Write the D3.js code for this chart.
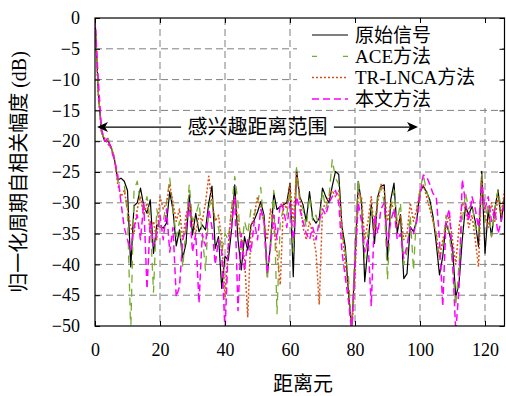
<!DOCTYPE html>
<html>
<script src='https://d3js.org/d3.v7.min.js'></script>
<head>
<style>
body {margin:0; background-color:white;}
text {font-family:'Liberation Serif','Noto Sans CJK SC',serif; fill:black;}
.grid line {stroke:#808080; stroke-dasharray:7,4; stroke-width:1;}
</style>
</head>
<body>
<svg width=506 height=396></svg>

<script>
var yTicks = [0,-5,-10,-15,-20,-25,-30,-35,-40,-45,-50]
var xTicks = [0,20,40,60,80,100,120]
var names = ['原始信号','ACE方法','TR-LNCA方法','本文方法']
var colors = ['black','#77AC30','#D95319','#FF00FF']
var dashes = ['none','8,6','2,2','7,4']
var widths = [1.2,1.3,1.5,1.5]

var orig = [0,-12,-18.5,-20,-20,-21,-23,-26.3,-26,-26.5,-28,-40.4,-30.5,-30,-27.6,-30.5,-31.7,-29.5,-38.2,-33.6,
  -33.9,-34.1,-33.3,-28.2,-31.2,-37,-34.4,-39,-36.6,-28.7,-35.2,-31.7,-34.7,-33.6,-34.4,-30,-27.3,-37.4,-35.5,-43.9,
  -38.7,-39.3,-34.4,-27.1,-36,-40.9,-35.5,-37.7,-33.6,-32.8,-31.5,-29.8,-32,-41.5,-37.1,-28.4,-31.1,-30.6,-30.3,-30,
  -26.8,-42,-24.6,-29,-30.3,-33,-28.2,-32.5,-33.3,-32.5,-27.6,-29,-30,-27.3,-24.9,-25.4,-33.9,-37.1,-44.7,-50.5,
  -39.3,-26.5,-30,-42.8,-37.1,-30.3,-36.6,-29,-27.3,-27.1,-39.3,-29.5,-26.8,-34.9,-31.9,-42.3,-41.5,-33.9,-34.7,-32.8,
  -28.2,-27.3,-28.2,-29.5,-32.2,-36.6,-41.7,-38.7,-33.3,-34.9,-37.1,-45.3,-43.1,-36,-30.6,-31.9,-30.6,-33,-37.1,-24.9,
  -38.2,-31.1,-35.5,-31.1,-27.9,-33,-29]
var ace = [0,-12,-18.5,-20,-19.5,-21,-22.5,-26.5,-27,-27,-32,-51,-28,-26.5,-30,-31,-29,-33,-44.5,-31,
  -34,-33,-30,-26,-31,-35.5,-33,-40.5,-34,-27,-33,-32,-30,-35,-41,-31,-29,-33,-34,-38,
  -35,-36,-31,-25.7,-30,-38,-33,-35,-31,-32,-30,-27.5,-34,-42.6,-36,-28,-48,-33,-31,-32,
  -28,-38,-24.3,-30,-31,-34,-29,-33,-32,-34,-28,-31,-29,-23,-26,-27,-35,-38,-42,-51,
  -37,-26.3,-31,-39,-35,-31,-34,-28.4,-27.5,-30,-42.5,-31,-28,-33,-30,-40,-38,-32,-41,-31,
  -28,-25.4,-28,-30,-33,-35,-39.3,-37,-32,-35,-40,-46.8,-40,-33,-28.4,-31,-30,-34,-35,-25.4,
  -33,-30,-35.5,-31,-28,-31,-30]
var trlnca = [0,-12.5,-18.5,-19.5,-20.5,-21,-23,-27,-29,-28,-31,-34,-35,-31,-29,-32,-30,-35,-33,-36,
  -29,-31,-30,-27,-30,-33,-31,-36,-32,-30,-33,-35,-32,-33,-30,-25.7,-30,-33,-32,-36,
  -45.3,-37,-31,-29,-33,-36,-39,-48.5,-34,-32,-29,-31,-33,-36,-31,-34,-38,-43.3,-30,-31,
  -27,-33,-25,-29,-34,-36,-33,-35,-38,-46.5,-31,-30,-29,-28,-29,-28,-34,-40,-44,-51,
  -42,-28.4,-29,-36,-33,-29,-35,-30,-27,-28,-33,-30,-31,-34,-32,-36,-35,-30,-33,-31,
  -28,-27,-29,-31,-33,-35,-39,-36,-34,-32,-36,-40,-34,-30,-31,-34,-32,-36,-40.4,-26,
  -32,-34,-30,-33,-29,-32,-28]
var proposed = [0,-10,-18,-20,-19.5,-21.5,-23,-25.5,-30,-34,-36,-37.7,-34,-32,-36,-30,-44,-33,-37,-35,
  -32,-36,-31,-38,-34,-45.3,-43.6,-36,-34,-30,-38,-35,-46.3,-35,-37,-31,-34,-40,-36,-38,
  -51,-37,-34,-29,-47.5,-35,-41,-36,-38,-33,-36,-31,-33,-41.5,-37,-32,-36,-30,-31,-34,
  -30,-36,-29,-31,-33,-35,-36,-34,-36,-33,-31,-32,-30,-29,-28,-30,-38,-42,-46,-51,
  -40,-30,-33,-38,-36,-46.8,-32,-35,-31,-30,-37,-33,-31,-36,-35,-39,-37,-34,-35,-33,
  -29,-25.5,-25.7,-27,-28.5,-29,-36,-46.8,-33,-31,-39,-51,-44,-26.2,-30,-33,-29,-31,-34,-27,
  -31,-29,-33,-31,-35,-33,-30]
var series = [orig,ace,trlnca,proposed]

var pL = 95, pT = 18, pR = 504.5, pB = 326

var svg = d3.select('svg')
var x = d3.scaleLinear().domain([0,126]).range([pL,pR])
var y = d3.scaleLinear().domain([-50,0]).range([pB,pT])

//grid
var grid = svg.append('g').attr('class','grid')
grid.selectAll('.gx').data(xTicks.slice(1)).enter().append('line')
   .attr('x1',d=>x(d)).attr('x2',d=>x(d)).attr('y1',pT).attr('y2',pB)
grid.selectAll('.gy').data(yTicks.slice(1,-1)).enter().append('line')
   .attr('y1',d=>y(d)).attr('y2',d=>y(d)).attr('x1',pL).attr('x2',pR)

//clip for the lines
svg.append('clipPath').attr('id','clip').append('rect')
   .attr('x',pL).attr('y',pT).attr('width',pR-pL).attr('height',pB-pT)

var line = d3.line().x((d,i)=>x(i)).y(d=>y(d))
series.forEach(function(s,k){
  svg.append('path')
     .attr('clip-path','url(#clip)')
     .attr('d',line(s))
     .attr('fill','none')
     .attr('stroke',colors[k])
     .attr('stroke-width',widths[k])
     .attr('stroke-dasharray',dashes[k])
     .attr('stroke-linejoin','round')
})

//legend
svg.append('rect').attr('x',297).attr('y',19).attr('width',205).attr('height',89).attr('fill','white')
names.forEach(function(n,k){
  var ly = 35+k*21.3
  svg.append('line').attr('x1',312).attr('x2',348).attr('y1',ly).attr('y2',ly)
     .attr('stroke',colors[k]).attr('stroke-width',widths[k]).attr('stroke-dasharray',k==1 ? '5,26' : dashes[k])
  svg.append('text').attr('x',355).attr('y',ly).attr('dy','0.36em')
     .style('font-size','19px').text(n)
})

//axes box
svg.append('rect').attr('x',pL).attr('y',pT).attr('width',pR-pL).attr('height',pB-pT)
   .attr('fill','none').attr('stroke','black').attr('stroke-width',1.2)

var fmt = d => d==0 ? '0' : '\u2212'+Math.abs(d)
svg.append('g').attr('transform','translate('+pL+',0)')
   .call(d3.axisLeft(y).tickValues(yTicks).tickSize(-5).tickPadding(15).tickFormat(fmt))
svg.append('g').attr('transform','translate(0,'+pB+')')
   .call(d3.axisBottom(x).tickValues(xTicks).tickSize(-5).tickPadding(17).tickFormat(d3.format('d')))
svg.append('g').attr('transform','translate('+pR+',0)')
   .call(d3.axisRight(y).tickValues(yTicks).tickSize(-5).tickFormat(''))
svg.append('g').attr('transform','translate(0,'+pT+')')
   .call(d3.axisTop(x).tickValues(xTicks).tickSize(-5).tickFormat(''))
svg.selectAll('.domain').remove()
svg.selectAll('.tick text').style('font-size','18px').style('font-family',"'Liberation Serif',serif")

//annotation arrow
var ay0 = -17.7
var arr = svg.append('g')
arr.append('line').attr('x1',x(0)+8).attr('x2',x(26.5)).attr('y1',y(ay0)).attr('y2',y(ay0))
   .attr('stroke','black').attr('stroke-width',1.3)
arr.append('path').attr('d','M'+(x(0)+2)+','+y(ay0)+' l11,-5 l-3,5 l3,5 z').attr('fill','black')
svg.append('text').attr('x',x(50)).attr('y',y(ay0)).attr('dy','0.36em').attr('text-anchor','middle')
   .style('font-size','20px').text('感兴趣距离范围')
arr.append('line').attr('x1',x(73.5)).attr('x2',x(100)-8).attr('y1',y(ay0)).attr('y2',y(ay0))
   .attr('stroke','black').attr('stroke-width',1.3)
arr.append('path').attr('d','M'+(x(100)-2)+','+y(ay0)+' l-11,-5 l3,5 l-3,5 z').attr('fill','black')

//axis labels
svg.append('text').attr('x',303).attr('y',384).attr('dy','0.36em').attr('text-anchor','middle')
   .style('font-size','20px').text('距离元')
svg.append('text').attr('transform','translate(19,172) rotate(-90)').attr('dy','0.36em')
   .attr('text-anchor','middle').style('font-size','20px').text('归一化周期自相关幅度 (dB)')
</script>
</body>
</html>
